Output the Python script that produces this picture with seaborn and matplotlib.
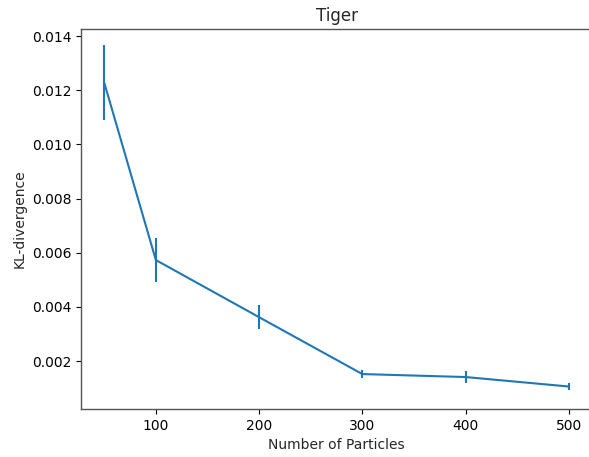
import matplotlib
matplotlib.use("Agg")
import matplotlib.pyplot as plt
import seaborn as sns
import pandas as pd

particles = [50, 100, 200, 300, 400, 500]
kl_mean = [0.01228, 0.00573, 0.00362, 0.00152, 0.00141, 0.00106]
kl_err = [0.00139, 0.00080, 0.00045, 0.00014, 0.00021, 0.00012]

df = pd.DataFrame({"Number of Particles": particles, "KL-divergence": kl_mean})

sns.set_style("white")
plt.rcParams['font.family'] = ['DejaVu Sans']

fig = plt.figure(figsize=(5.89, 4.57), dpi=100)
ax = fig.add_axes([81 / 589, 1 - 409 / 457, (592 - 81) / 589, (409 - 29) / 457])

color = "#1f77b4"
sns.lineplot(data=df, x="Number of Particles", y="KL-divergence", ax=ax,
             color=color, linewidth=1.5, errorbar=None)
ax.errorbar(particles, kl_mean, yerr=kl_err, fmt="none", ecolor=color,
            elinewidth=1.5, capsize=0)

ax.set_xlim(27.5, 522.5)
ax.set_ylim(0.00023, 0.01426)
ax.set_xticks([100, 200, 300, 400, 500])
ax.set_yticks([0.002, 0.004, 0.006, 0.008, 0.010, 0.012, 0.014])
ax.set_yticklabels(["0.002", "0.004", "0.006", "0.008", "0.010", "0.012", "0.014"])
ax.set_title("Tiger", fontsize=12)
ax.set_xlabel("Number of Particles", fontsize=10)
ax.set_ylabel("KL-divergence", fontsize=10)
ax.tick_params(axis="both", which="both", direction="out", length=3.5, width=0.8,
               labelsize=10, colors="black", left=True, bottom=True)
for s in ax.spines.values():
    s.set_color("#555555")
    s.set_linewidth(1.0)
    s.set_visible(True)

fig.savefig("out.png", dpi=100)
